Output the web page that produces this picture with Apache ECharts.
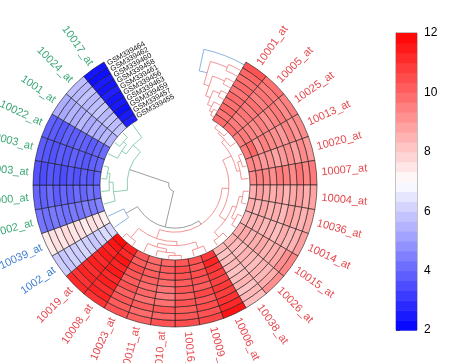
<!DOCTYPE html>
<html><head><meta charset="utf-8">
<script src="https://cdn.jsdelivr.net/npm/echarts@6/dist/echarts.min.js"></script>
<style>html,body{margin:0;padding:0;background:#fff}#c{width:474px;height:363px}</style>
</head><body><div id="c"></div>
<script>
// ---------------- data ----------------
const genes = ['10001_at','10005_at','10025_at','10013_at','10020_at','10007_at','10004_at','10036_at','10014_at','10015_at',
  '10026_at','10038_at','10006_at','10009_at','10016_at','10010_at','10011_at','10023_at','10008_at','10019_at',
  '1002_at','10039_at','10002_at','10000_at','1003_at','10003_at','10022_at','1001_at','10024_at','10017_at'];
// 0 = red cluster, 1 = green cluster, 2 = blue cluster
const geneCluster = [0,0,0,0,0,0,0,0,0,0, 0,0,0,0,0,0,0,0,0,0, 2,2, 1,1,1,1,1,1,1,1];
// samples, outermost track first
const samples = ['GSM339464','GSM339462','GSM339460','GSM339458','GSM339461','GSM339456','GSM339463','GSM339459','GSM339457','GSM339455'];
// values per gene, one per sample (outer -> inner)
const heatValues = [
 [10.4,10.0,9.8,9.9,9.7,9.9,9.8,10.0,9.7,9.9],
 [9.8,9.6,9.7,9.5,9.8,9.6,9.7,9.5,9.6,9.8],
 [9.5,9.3,9.6,9.4,9.2,9.5,9.3,9.4,9.6,9.5],
 [9.3,9.1,9.4,9.0,9.2,9.3,9.5,9.1,10.0,9.6],
 [9.0,9.3,8.9,9.2,9.0,8.8,9.1,9.0,9.3,9.4],
 [9.6,9.4,9.7,9.3,9.5,9.6,9.2,9.4,9.5,9.3],
 [8.8,8.6,8.9,8.7,8.5,8.8,8.6,8.7,8.9,8.6],
 [8.7,8.5,8.6,8.8,8.4,8.6,8.5,8.7,8.4,8.6],
 [8.9,8.5,8.4,8.6,8.3,8.5,8.4,8.6,8.5,8.4],
 [9.4,9.2,8.7,8.6,8.5,8.7,8.6,8.5,8.7,8.6],
 [9.2,8.6,8.4,8.5,8.3,8.4,8.5,8.3,8.4,8.5],
 [8.3,8.4,8.2,8.5,8.3,8.2,8.4,8.3,8.2,8.4],
 [11.6,11.2,11.0,10.8,10.9,10.7,10.8,11.0,11.3,10.9],
 [10.6,10.4,10.5,10.3,10.6,10.2,10.4,10.5,10.3,10.4],
 [10.5,10.3,10.2,10.4,10.1,10.3,10.2,10.4,10.5,10.3],
 [10.4,10.0,10.3,9.8,9.6,9.7,9.9,10.1,10.2,10.0],
 [10.1,9.9,10.2,9.8,10.0,9.9,10.1,10.2,10.0,9.9],
 [10.4,10.2,10.3,10.1,10.4,10.2,10.3,10.5,10.2,10.3],
 [11.0,11.3,11.1,11.4,11.2,11.5,11.3,11.6,11.2,11.4],
 [11.2,11.0,11.3,11.1,11.4,11.2,11.5,11.3,11.6,11.8],
 [6.0,5.9,6.1,6.0,6.2,6.1,5.9,6.1,6.3,6.2],
 [7.4,7.6,7.5,7.7,7.5,7.6,7.4,7.6,7.5,7.3],
 [4.3,4.2,4.4,4.3,4.2,4.4,4.3,4.5,4.4,4.6],
 [4.0,3.9,4.1,3.8,4.0,3.9,4.1,4.0,4.2,4.1],
 [3.6,3.5,3.7,3.6,3.5,3.7,3.6,3.8,3.7,3.9],
 [3.8,3.7,3.6,3.8,3.7,3.9,3.8,3.7,3.9,4.0],
 [3.9,3.8,3.7,3.9,3.8,4.0,3.9,3.8,4.0,4.1],
 [5.4,5.3,5.5,5.4,5.6,5.3,5.5,5.4,5.6,5.5],
 [5.7,5.6,5.8,5.6,5.7,5.9,5.6,5.8,5.7,5.9],
 [2.4,2.3,2.5,2.4,2.6,2.4,2.5,2.3,2.5,2.6]
];
// row dendrogram (hclust style: negative = gene leaf, positive = earlier merge), [left, right, height]
const rowMerge = [
 [-1,-2,0.7],[1,-3,1.0],[-4,-5,0.6],[3,-6,1.1],[2,4,1.6],
 [-7,-8,0.8],[-9,-10,0.7],[6,7,1.3],[-11,-12,0.9],[8,9,1.9],
 [5,10,3.0],[-13,-14,1.0],[-15,-16,0.5],[13,-17,0.9],[14,-18,1.4],
 [12,15,2.0],[-19,-20,0.8],[16,17,2.6],[11,18,4.0],[-21,-22,2.6],
 [-25,-26,0.8],[-24,21,1.2],[-23,22,1.8],[-28,-29,1.0],[-27,24,1.6],
 [-30,25,2.4],[23,26,3.9],[20,19,4.6],[27,28,10.1]
];
// column (sample) dendrogram
const colMerge = [[-9,-10,3],[-8,1,5],[-6,-7,4],[3,2,8],[-4,-5,4.5],[5,4,11],[-2,-3,6],[7,6,14],[-1,8,18]];
const colLeafCluster = [2,0,0,0,0,0,0,0,0,0];
const colorTicks = [2,4,6,8,10,12];

// ---------------- styling ----------------
const clusterColors = ['#E5484E', '#3DA877', '#3D7FCF', '#7a7a7a'];
const treeColors = ['#EF7B7B', '#72C29D', '#6C9FDA', '#858585'];
const FONT = 'Liberation Sans, Arial, sans-serif';
const GAP = 3;            // half gap (in sector units) on each side of the top
const NTR = samples.length;

// ---------------- build series data ----------------
const cellData = [];
heatValues.forEach((row, g) => row.forEach((v, t) => cellData.push([g, t, v])));

const cbSteps = 30, cbData = [];
for (let k = 0; k < cbSteps; k++) {
  const lo = 2 + k * 10 / cbSteps, hi = 2 + (k + 1) * 10 / cbSteps;
  cbData.push([lo, hi, (lo + hi) / 2]);
}

function treeSegments(merges, leafPos, leafGroup, hMap, posIsAngle, mixed) {
  const pos = [], grp = [], hh = [], segs = [];
  const get = k => k < 0 ? { p: leafPos(-k - 1), g: leafGroup(-k - 1), h: 0 }
                         : { p: pos[k - 1], g: grp[k - 1], h: hh[k - 1] };
  merges.forEach(m => {
    const a = get(m[0]), b = get(m[1]);
    const p = (a.p + b.p) / 2, g = a.g === b.g ? a.g : mixed, H = m[2];
    pos.push(p); grp.push(g); hh.push(H);
    const hv = hMap(H), ha = hMap(a.h), hb = hMap(b.h);
    if (posIsAngle) {
      segs.push([a.p, b.p, hv, hv, g]);
      segs.push([a.p, a.p, hv, ha, g]);
      segs.push([b.p, b.p, hv, hb, g]);
    } else {
      segs.push([hv, hv, a.p, b.p, g]);
      segs.push([hv, ha, a.p, a.p, g]);
      segs.push([hv, hb, b.p, b.p, g]);
    }
  });
  return segs;
}
const rowSegs = treeSegments(rowMerge, i => i + 0.5, i => geneCluster[i], h => -0.15 - h, true, 3);
const colSegs = treeSegments(colMerge, t => NTR - 0.5 - t, t => colLeafCluster[t], h => -h / 10, false, 2);

// ---------------- helpers ----------------
function polarOf(p, cs) {
  return { r: Math.hypot(p[0] - cs.cx, p[1] - cs.cy), a: Math.atan2(p[1] - cs.cy, p[0] - cs.cx) };
}

const chart = echarts.init(document.getElementById('c'), null, { renderer: 'canvas' });
chart.setOption({
  animation: false,
  backgroundColor: '#fff',
  polar: { center: [175, 185], radius: 142 },
  angleAxis: { type: 'value', min: -GAP, max: genes.length + GAP, startAngle: 90, clockwise: true, show: false },
  radiusAxis: { type: 'value', min: -75 / 6.7, max: NTR, show: false },
  grid: { left: 396, top: 33, width: 21, height: 297, show: true, borderColor: '#666', borderWidth: 0.8 },
  xAxis: { type: 'value', min: 0, max: 1, show: false },
  yAxis: {
    type: 'value', min: 2, max: 12, interval: 2, position: 'right',
    axisLine: { show: true, lineStyle: { color: '#555', width: 0.8 } },
    axisTick: { show: true, length: 4, lineStyle: { color: '#333', width: 0.8 } },
    axisLabel: { color: '#000', fontSize: 12, margin: 7, fontFamily: FONT },
    splitLine: { show: false }
  },
  visualMap: {
    show: false, type: 'continuous', min: 2, max: 12, dimension: 2, seriesIndex: [0, 1],
    inRange: { color: ['#0000FF', '#FFFFFF', '#FF0000'] }
  },
  series: [
    { // heatmap cells
      type: 'custom', coordinateSystem: 'polar', data: cellData,
      renderItem(params, api) {
        const g = api.value(0), t = api.value(1), cs = params.coordSys;
        const p0 = polarOf(api.coord([NTR - 1 - t, g]), cs);
        const p1 = polarOf(api.coord([NTR - t, g + 1]), cs);
        let e = p1.a; while (e < p0.a) e += 2 * Math.PI;
        return { type: 'sector', shape: { cx: cs.cx, cy: cs.cy, r0: p0.r, r: p1.r, startAngle: p0.a, endAngle: e, clockwise: true },
          style: { fill: api.visual('color'), stroke: '#1a1a1a', lineWidth: 0.6 } };
      }
    },
    { // colour bar
      type: 'custom', coordinateSystem: 'cartesian2d', data: cbData,
      renderItem(params, api) {
        const p0 = api.coord([0, api.value(0)]), p1 = api.coord([1, api.value(1)]);
        return { type: 'rect', shape: { x: p0[0], y: p1[1], width: p1[0] - p0[0], height: p0[1] - p1[1] + 0.6 },
          style: { fill: api.visual('color') } };
      }
    },
    { // row dendrogram
      type: 'custom', coordinateSystem: 'polar', data: rowSegs, renderItem: segItem, z: 3
    },
    { // column dendrogram
      type: 'custom', coordinateSystem: 'polar', data: colSegs, renderItem: segItem, z: 3
    },
    { // gene labels
      type: 'custom', coordinateSystem: 'polar', data: genes.map((n, i) => [i, geneCluster[i]]),
      renderItem(params, api) {
        const g = api.value(0), cs = params.coordSys;
        const p = api.coord([10.75, g + 0.5]);
        const s = Math.atan2(p[1] - cs.cy, p[0] - cs.cx);
        const right = p[0] >= cs.cx;
        return { type: 'text', x: p[0], y: p[1], rotation: right ? -s : -(s + Math.PI),
          style: { text: genes[g], fill: clusterColors[api.value(1)], font: '11px ' + FONT,
            align: right ? 'left' : 'right', textAlign: right ? 'left' : 'right', verticalAlign: 'middle', textVerticalAlign: 'middle' } };
      }
    },
    { // sample labels in the gap
      type: 'custom', coordinateSystem: 'polar', data: samples.map((n, t) => [t]),
      renderItem(params, api) {
        const t = api.value(0), cs = params.coordSys;
        const p = api.coord([NTR - 0.5 - t, genes.length + 0.1]);
        const s = Math.atan2(p[1] - cs.cy, p[0] - cs.cx);
        return { type: 'text', x: p[0], y: p[1], rotation: -(s + Math.PI / 2),
          style: { text: samples[t], fill: '#111', font: '7.5px ' + FONT, align: 'left', textAlign: 'left',
            verticalAlign: 'middle', textVerticalAlign: 'middle' } };
      }
    }
  ]
});

function segItem(params, api) {
  const a1 = api.value(0), a2 = api.value(1), r1 = api.value(2), r2 = api.value(3);
  const color = treeColors[api.value(4)], cs = params.coordSys;
  if (r1 === r2) {
    const p = polarOf(api.coord([r1, Math.min(a1, a2)]), cs), q = polarOf(api.coord([r1, Math.max(a1, a2)]), cs);
    let e = q.a; while (e < p.a) e += 2 * Math.PI;
    return { type: 'arc', shape: { cx: cs.cx, cy: cs.cy, r: p.r, startAngle: p.a, endAngle: e, clockwise: true },
      style: { stroke: color, lineWidth: 0.8, fill: null } };
  }
  const p = api.coord([r1, a1]), q = api.coord([r2, a2]);
  return { type: 'line', shape: { x1: p[0], y1: p[1], x2: q[0], y2: q[1] }, style: { stroke: color, lineWidth: 0.8 } };
}
</script>
</body></html>
